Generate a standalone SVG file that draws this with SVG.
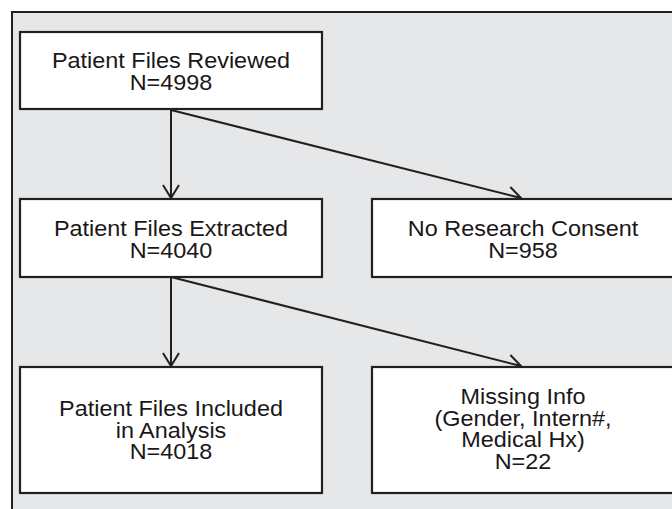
<svg xmlns="http://www.w3.org/2000/svg" width="672" height="509" viewBox="0 0 672 509">
<defs>
<style>
.frame{fill:#e6e7e8;stroke:#231f20;stroke-width:2}
.box{fill:#ffffff;stroke:#231f20;stroke-width:2.2}
.t{font-family:"Liberation Sans",Arial,sans-serif;font-size:21.5px;fill:#1a1718;text-anchor:middle}
.c{stroke:#231f20;stroke-width:2;fill:none}
</style>
<marker id="arr" markerUnits="userSpaceOnUse" markerWidth="30" markerHeight="30" viewBox="-15 -15 30 30" refX="0" refY="0" orient="auto">
<path d="M-13,-8 L0,0 L-13,8" fill="none" stroke="#231f20" stroke-width="2"/>
</marker>
</defs>
<rect class="frame" x="12" y="12" width="680" height="520"/>
<g id="connectors">
<line class="c" x1="171" y1="110" x2="171" y2="198" marker-end="url(#arr)"/>
<line class="c" x1="171" y1="110" x2="521" y2="198" marker-end="url(#arr)"/>
<line class="c" x1="171" y1="277" x2="171" y2="366" marker-end="url(#arr)"/>
<line class="c" x1="171" y1="277" x2="521" y2="366" marker-end="url(#arr)"/>
</g>
<g id="reviewed">
<rect class="box" x="20" y="32" width="302" height="77"/>
<text class="t" transform="matrix(1.09 0 0 1 171 68)">Patient Files Reviewed</text>
<text class="t" transform="matrix(1.09 0 0 1 171 90)">N=4998</text>
</g>
<g id="extracted">
<rect class="box" x="20" y="199" width="302" height="78"/>
<text class="t" transform="matrix(1.09 0 0 1 171 236)">Patient Files Extracted</text>
<text class="t" transform="matrix(1.09 0 0 1 171 258)">N=4040</text>
</g>
<g id="noconsent">
<rect class="box" x="372" y="199" width="302" height="78"/>
<text class="t" transform="matrix(1.09 0 0 1 523 236)">No Research Consent</text>
<text class="t" transform="matrix(1.09 0 0 1 523 258)">N=958</text>
</g>
<g id="included">
<rect class="box" x="20" y="367" width="302" height="126"/>
<text class="t" transform="matrix(1.09 0 0 1 171 416)">Patient Files Included</text>
<text class="t" transform="matrix(1.09 0 0 1 171 437.5)">in Analysis</text>
<text class="t" transform="matrix(1.09 0 0 1 171 459)">N=4018</text>
</g>
<g id="missing">
<rect class="box" x="372" y="367" width="302" height="126"/>
<text class="t" transform="matrix(1.09 0 0 1 523 404)">Missing Info</text>
<text class="t" transform="matrix(1.09 0 0 1 523 425.5)">(Gender, Intern#,</text>
<text class="t" transform="matrix(1.09 0 0 1 523 447)">Medical Hx)</text>
<text class="t" transform="matrix(1.09 0 0 1 523 468.5)">N=22</text>
</g>
</svg>
